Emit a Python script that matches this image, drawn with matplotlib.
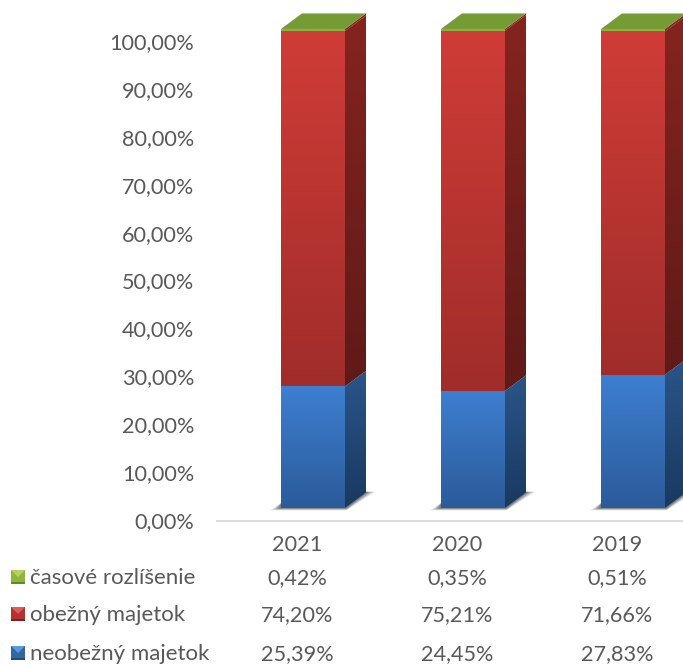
from matplotlib import pyplot as plt
from matplotlib.patches import Polygon
from matplotlib.colors import LinearSegmentedColormap
from matplotlib.transforms import ScaledTranslation
import numpy as np

plt.rcParams['font.family'] = ['Lato', 'DejaVu Sans']

years = ['2021', '2020', '2019']
neobezny = [25.39, 24.45, 27.83]
obezny = [74.20, 75.21, 71.66]
casove = [0.42, 0.35, 0.51]
neobezny_txt = ['25,39%', '24,45%', '27,83%']
obezny_txt = ['74,20%', '75,21%', '71,66%']
casove_txt = ['0,42%', '0,35%', '0,51%']
yticks = [0, 10, 20, 30, 40, 50, 60, 70, 80, 90, 100]
ylabels = ['%d,00%%' % t for t in yticks]

W, H = 683, 664
GREY = '#595959'
PX_Y = 4.79     # pixels per one percent
PX_X = 160.0    # pixels per one category
BAR_W = 64 / PX_X
BAR_OFF = -16 / PX_X   # left edge of the bar against the category centre
DX = 21 / PX_X
DY = 15.5 / PX_Y
LIFT = 13 / PX_Y

fig = plt.figure(figsize=(W / 100, H / 100), dpi=100)
ax = fig.add_axes([217 / W, 1 - 521 / H, (W - 217) / W, 521 / H])


def face(points, top, bottom, z):
    # polygon filled with a vertical gradient
    pts = np.array(points)
    cmap = LinearSegmentedColormap.from_list('g', [bottom, top])
    grad = np.linspace(0, 1, 128).reshape(-1, 1)
    im = ax.imshow(grad, cmap=cmap, origin='lower', aspect='auto', zorder=z,
                   extent=[pts[:, 0].min(), pts[:, 0].max(), pts[:, 1].min(), pts[:, 1].max()])
    patch = Polygon(pts, closed=True, transform=ax.transData, fc='none', ec='none')
    ax.add_patch(patch)
    im.set_clip_path(patch)


def segment(x0, y0, y1, front, side, z):
    x1 = x0 + BAR_W
    face([(x1, y0), (x1 + DX, y0 + DY), (x1 + DX, y1 + DY), (x1, y1)], side[0], side[1], z)
    face([(x0, y0), (x1, y0), (x1, y1), (x0, y1)], front[0], front[1], z + 0.1)


for i in range(len(years)):
    x0 = i + BAR_OFF
    x1 = x0 + BAR_W
    b0 = LIFT
    b1 = b0 + neobezny[i]
    b2 = b1 + obezny[i]
    b3 = b2 + casove[i]

    # floor shadow
    for grow, alpha in [(1.0, 0.12), (0.75, 0.2), (0.5, 0.28), (0.25, 0.34)]:
        ax.add_patch(Polygon([(x0 - 0.07 * grow, b0 - 0.5 * grow), (x1 + 0.01, b0 - 0.5 * grow),
                              (x1 + DX + 0.06 * grow, b0 + DY * 1.05), (x1 + DX, b0 + DY * 1.05),
                              (x1, b0 + 1), (x0, b0 + 1)],
                             closed=True, fc='#404040', ec='none', alpha=alpha, zorder=1))

    segment(x0, b0, b1, ('#3e7fd1', '#2b5b99'), ('#2a5589', '#193960'), 2)
    segment(x0, b1, b2, ('#d03c37', '#a02d2a'), ('#85241f', '#5f1a18'), 3)
    segment(x0, b2, b3, ('#8ab33e', '#8ab33e'), ('#85241f', '#85241f'), 4)
    # top of the bar
    ax.add_patch(Polygon([(x0, b3), (x1, b3), (x1 + DX, b3 + DY), (x0 + DX, b3 + DY)],
                         closed=True, fc='#749b34', ec='none', zorder=5))

ax.set_xlim(-0.5, (W - 297) / PX_X)
ax.set_ylim(0, 521 / PX_Y)
ax.set_xticks(range(len(years)))
ax.set_xticklabels(years)
ax.set_yticks(yticks)
ax.set_yticklabels(ylabels)
ax.tick_params(axis='both', length=0, labelsize=15.6, labelcolor=GREY)
ax.tick_params(axis='y', pad=16.5)
ax.tick_params(axis='x', pad=10)
up = ScaledTranslation(0, 1 / 100, fig.dpi_scale_trans)
for lab in ax.get_yticklabels():
    lab.set_transform(lab.get_transform() + up)
ax.patch.set_visible(False)
for s in ['top', 'left', 'right']:
    ax.spines[s].set_visible(False)
ax.spines['bottom'].set_color('#d9d9d9')
ax.spines['bottom'].set_linewidth(1.3)

# data table under the axis
rows = [('časové rozlíšenie', casove_txt, 577, ('#b5d163', '#8fb540', '#5f8a2a')),
        ('obežný majetok', obezny_txt, 614, ('#d9605c', '#b5322e', '#7d2220')),
        ('neobežný majetok', neobezny_txt, 653, ('#5a9ae0', '#33689f', '#234b7d'))]
for name, vals, py, cols in rows:
    yf = 1 - py / H
    fig.text(30 / W, yf - 1 / H, name, fontsize=16, color=GREY, va='center', ha='left')
    for i, v in enumerate(vals):
        fig.text((297 + i * PX_X) / W, yf - 1 / H, v, fontsize=15.6, color=GREY, va='center', ha='center')
    l, r = 11 / W, 25 / W
    t, b = yf + 7 / H, yf - 7 / H
    mx, my = (l + r) / 2, yf
    fig.add_artist(Polygon([(l, b), (r, b), (r, t), (l, t)], closed=True,
                           transform=fig.transFigure, fc=cols[1], ec='none'))
    fig.add_artist(Polygon([(l, t), (r, t), (mx, my)], closed=True,
                           transform=fig.transFigure, fc=cols[0], ec='none'))
    fig.add_artist(Polygon([(l, b), (r, b), (r, b + 2 / H), (l, b + 2 / H)], closed=True,
                           transform=fig.transFigure, fc=cols[2], ec='none'))

fig.savefig('out.png', dpi=100)
